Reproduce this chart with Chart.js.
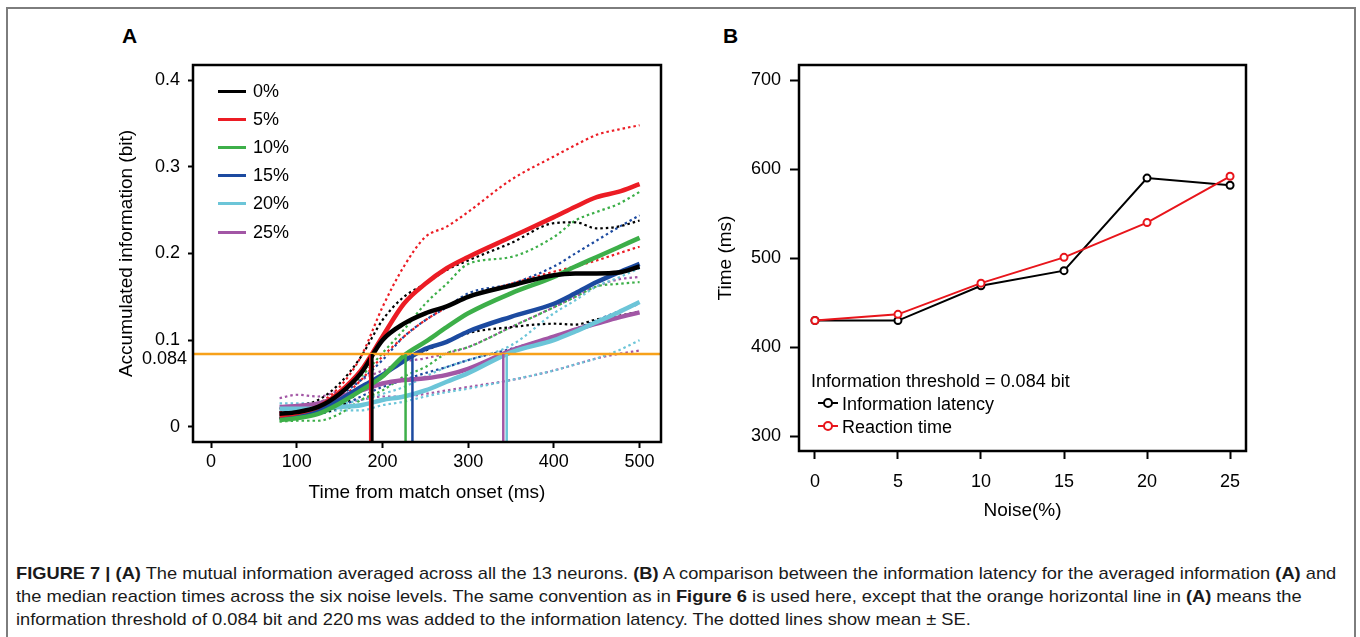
<!DOCTYPE html>
<html>
<head>
<meta charset="utf-8">
<script src="https://cdn.jsdelivr.net/npm/chart.js@4.4.1/dist/chart.umd.min.js"></script>
<style>
body{margin:0;background:#fff;}
#page{position:relative;width:1360px;height:637px;overflow:hidden;background:#fff;font-family:"Liberation Sans",Arial,sans-serif;color:#000;}
#frame{position:absolute;left:6px;top:7px;width:1350px;height:680px;border:2px solid #7d7d7d;box-sizing:border-box;}
canvas{position:absolute;}
#chartA{left:100px;top:40px;}
#chartB{left:700px;top:40px;}
.panel{position:absolute;font-weight:bold;font-size:21px;line-height:22px;}
.leg{position:absolute;font-size:18px;line-height:22px;white-space:nowrap;}
.leg .ln{position:absolute;top:10px;height:3px;}
.cap{position:absolute;left:16px;font-size:17px;line-height:23px;white-space:nowrap;color:#1a1a1a;transform:scaleX(1.075);transform-origin:0 0;}
.mk{position:absolute;top:9px;height:2px;width:20px;}
.dot{position:absolute;top:5px;left:5px;width:6px;height:6px;border:2px solid;border-radius:50%;background:#fff;}
#thrLabel{position:absolute;font-size:18px;line-height:22px;text-align:right;width:80px;}
</style>
</head>
<body>
<div id="page">
<div id="frame"></div>
<div class="panel" style="left:122px;top:25px">A</div>
<div class="panel" style="left:723px;top:25px">B</div>
<canvas id="chartA" width="580" height="490"></canvas>
<canvas id="chartB" width="580" height="490"></canvas>
<div id="thrLabel"></div>
<div id="legendA"></div>
<div id="legendB"></div>
<div class="cap" style="top:562px"><b>FIGURE 7 | (A)</b> The mutual information averaged across all the 13 neurons. <b>(B)</b> A comparison between the information latency for the averaged information <b>(A)</b> and</div>
<div class="cap" style="top:585px">the median reaction times across the six noise levels. The same convention as in <b>Figure 6</b> is used here, except that the orange horizontal line in <b>(A)</b> means the</div>
<div class="cap" style="top:608px">information threshold of 0.084 bit and 220&#8201;ms was added to the information latency. The dotted lines show mean &plusmn; SE.</div>
</div>
<script>
// ---- Panel A data: accumulated information (bit) vs time from match onset (ms)
const noiseLabels = ['0%', '5%', '10%', '15%', '20%', '25%'];
const seriesColors = ['#000000', '#ec1c24', '#3daf49', '#1c4aa0', '#6cc5d8', '#a256a5'];
const timeMs = [80, 100, 125, 150, 175, 200, 225, 250, 275, 300, 350, 400, 425, 450, 475, 500];

const mean0  = [0.015, 0.017, 0.023, 0.038, 0.062, 0.100, 0.119, 0.131, 0.139, 0.150, 0.163, 0.175, 0.177, 0.177, 0.178, 0.185];
const mean5  = [0.013, 0.016, 0.023, 0.040, 0.065, 0.104, 0.142, 0.165, 0.183, 0.196, 0.219, 0.242, 0.254, 0.265, 0.271, 0.280];
const mean10 = [0.008, 0.010, 0.015, 0.027, 0.042, 0.058, 0.082, 0.098, 0.115, 0.131, 0.154, 0.173, 0.185, 0.196, 0.207, 0.218];
const mean15 = [0.012, 0.014, 0.019, 0.031, 0.046, 0.060, 0.076, 0.090, 0.098, 0.110, 0.127, 0.142, 0.154, 0.167, 0.178, 0.188];
const mean20 = [0.021, 0.021, 0.021, 0.023, 0.025, 0.031, 0.035, 0.042, 0.052, 0.062, 0.086, 0.100, 0.110, 0.121, 0.132, 0.144];
const mean25 = [0.023, 0.024, 0.027, 0.035, 0.042, 0.050, 0.054, 0.056, 0.060, 0.067, 0.088, 0.104, 0.112, 0.119, 0.126, 0.132];

// mean +/- SE (dotted)
const up0  = [0.021, 0.024, 0.031, 0.050, 0.081, 0.123, 0.150, 0.165, 0.181, 0.192, 0.212, 0.235, 0.236, 0.229, 0.231, 0.238];
const lo0  = [0.010, 0.012, 0.015, 0.023, 0.042, 0.058, 0.077, 0.088, 0.098, 0.108, 0.115, 0.119, 0.118, 0.124, 0.128, 0.133];
const up5  = [0.017, 0.020, 0.027, 0.046, 0.081, 0.138, 0.185, 0.219, 0.231, 0.248, 0.285, 0.312, 0.325, 0.337, 0.343, 0.348];
const lo5  = [0.010, 0.012, 0.017, 0.031, 0.054, 0.081, 0.104, 0.123, 0.138, 0.150, 0.165, 0.179, 0.185, 0.192, 0.200, 0.208];
const up10 = [0.013, 0.015, 0.021, 0.038, 0.058, 0.085, 0.112, 0.142, 0.165, 0.188, 0.196, 0.219, 0.238, 0.248, 0.257, 0.271];
const lo10 = [0.006, 0.007, 0.007, 0.015, 0.031, 0.042, 0.058, 0.069, 0.085, 0.092, 0.115, 0.138, 0.150, 0.162, 0.165, 0.167];
const up15 = [0.017, 0.019, 0.023, 0.036, 0.054, 0.077, 0.104, 0.123, 0.138, 0.154, 0.165, 0.185, 0.200, 0.215, 0.230, 0.244];
const lo15 = [0.009, 0.011, 0.015, 0.023, 0.035, 0.046, 0.054, 0.062, 0.069, 0.077, 0.090, 0.104, 0.113, 0.123, 0.133, 0.142];
const up20 = [0.027, 0.027, 0.027, 0.027, 0.031, 0.038, 0.046, 0.058, 0.069, 0.077, 0.094, 0.131, 0.146, 0.162, 0.172, 0.183];
const lo20 = [0.015, 0.015, 0.015, 0.019, 0.019, 0.025, 0.029, 0.035, 0.040, 0.044, 0.054, 0.065, 0.072, 0.079, 0.088, 0.100];
const up25 = [0.033, 0.037, 0.035, 0.042, 0.054, 0.065, 0.075, 0.079, 0.085, 0.092, 0.115, 0.138, 0.150, 0.162, 0.170, 0.173];
const lo25 = [0.017, 0.018, 0.019, 0.025, 0.031, 0.035, 0.035, 0.038, 0.042, 0.046, 0.054, 0.065, 0.072, 0.079, 0.084, 0.088];

const threshold = 0.084;
const latencyMs = [188, 186, 227, 235, 345, 341];   // where each mean crosses the threshold
const xTicksA = [0, 100, 200, 300, 400, 500];
const yTicksA = [0, 0.084, 0.1, 0.2, 0.3, 0.4];

// ---- Panel B data
const noisePct = [0, 5, 10, 15, 20, 25];
const infoLatency = [430, 430, 469, 486, 590, 582];
const reactionTime = [430, 437, 472, 501, 540, 592];
const yTicksB = [300, 400, 500, 600, 700];

const THR_COLOR = '#f7a11a';
const FONT = {family: '"Liberation Sans", Arial, sans-serif', size: 18};
const TITLE_FONT = {family: '"Liberation Sans", Arial, sans-serif', size: 19};

const means = [mean0, mean5, mean10, mean15, mean20, mean25];
const uppers = [up0, up5, up10, up15, up20, up25];
const lowers = [lo0, lo5, lo10, lo15, lo20, lo25];

function pts(arr){
	return timeMs.map((t, i) => ({x: t, y: arr[i]}));
}

// box around chart area (R style)
const boxPlugin = {
	id: 'box',
	afterDatasetsDraw(chart){
		const {ctx, chartArea: a} = chart;
		ctx.save();
		ctx.strokeStyle = '#000';
		ctx.lineWidth = 2.5;
		ctx.strokeRect(a.left, a.top, a.right - a.left, a.bottom - a.top);
		ctx.restore();
	}
};

//--------------------------------------- chart A
const X_MIN_A = -21, X_MAX_A = 525, Y_MIN_A = -0.0175, Y_MAX_A = 0.4175;
let dsA = [];
for (let i = 0; i < 6; i++) {
	[uppers[i], lowers[i]].forEach(arr => {
		dsA.push({data: pts(arr), borderColor: seriesColors[i], borderWidth: 2.2, borderDash: [2.5, 3],
			pointRadius: 0, cubicInterpolationMode: 'monotone', order: 4});
	});
}
for (let i = 0; i < 6; i++) {
	dsA.push({data: pts(means[i]), borderColor: seriesColors[i], borderWidth: 4.5,
		pointRadius: 0, cubicInterpolationMode: 'monotone', order: 3});
}
dsA.push({data: [{x: X_MIN_A, y: threshold}, {x: X_MAX_A, y: threshold}], borderColor: THR_COLOR,
	borderWidth: 2.5, pointRadius: 0, order: 2});
for (let i = 0; i < 6; i++) {
	dsA.push({data: [{x: latencyMs[i], y: Y_MIN_A}, {x: latencyMs[i], y: threshold}], borderColor: seriesColors[i],
		borderWidth: i < 2 ? 3 : 2.5, pointRadius: 0, order: 1});
}

const chartA = new Chart(document.getElementById('chartA').getContext('2d'), {
	type: 'line',
	data: {datasets: dsA},
	plugins: [boxPlugin],
	options: {
		responsive: false,
		animation: false,
		devicePixelRatio: 1,
		layout: {padding: {top: 25, right: 19, left: 0, bottom: 0}},
		plugins: {legend: {display: false}, tooltip: {enabled: false}},
		scales: {
			x: {
				type: 'linear', min: X_MIN_A, max: X_MAX_A,
				afterBuildTicks: s => { s.ticks = xTicksA.map(v => ({value: v})); },
				afterFit: s => { s.height = 88; },
				grid: {drawOnChartArea: false, drawTicks: true, tickLength: 6, tickWidth: 2, tickColor: '#000'},
				border: {display: false},
				ticks: {color: '#000', font: FONT, padding: 3, maxRotation: 0},
				title: {display: true, text: 'Time from match onset (ms)', color: '#000', font: TITLE_FONT, padding: {top: 0, bottom: 26}}
			},
			y: {
				type: 'linear', min: Y_MIN_A, max: Y_MAX_A,
				afterBuildTicks: s => { s.ticks = yTicksA.map(v => ({value: v})); },
				afterFit: s => { s.width = 93; },
				grid: {drawOnChartArea: false, drawTicks: true, tickLength: 5, tickWidth: 2,
					tickColor: c => (c.tick && c.tick.value === threshold) ? 'rgba(0,0,0,0)' : '#000'},
				border: {display: false},
				// threshold label is placed separately (closer to the axis, like the original)
				ticks: {color: '#000', font: FONT, padding: 8, callback: v => (v === threshold ? '' : String(v))},
				title: {display: true, text: 'Accumulated information (bit)', color: '#000', font: TITLE_FONT, padding: {top: 15, bottom: 0}}
			}
		}
	}
});

// threshold tick label, positioned from the y scale
const thrLabel = document.getElementById('thrLabel');
thrLabel.textContent = String(threshold);
const canvasA = document.getElementById('chartA');
thrLabel.style.left = (canvasA.offsetLeft + chartA.chartArea.left - 6 - 80) + 'px';
thrLabel.style.top = (canvasA.offsetTop + chartA.scales.y.getPixelForValue(threshold) - 7) + 'px';

//--------------------------------------- chart B
new Chart(document.getElementById('chartB').getContext('2d'), {
	type: 'line',
	data: {
		datasets: [
			{label: 'Information latency', data: noisePct.map((n, i) => ({x: n, y: infoLatency[i]})),
				borderColor: '#000', borderWidth: 2, pointRadius: 3.5, pointBorderWidth: 2,
				pointBackgroundColor: '#fff', pointBorderColor: '#000', tension: 0, order: 2},
			{label: 'Reaction time', data: noisePct.map((n, i) => ({x: n, y: reactionTime[i]})),
				borderColor: '#e8151b', borderWidth: 2, pointRadius: 3.5, pointBorderWidth: 2,
				pointBackgroundColor: '#fff', pointBorderColor: '#e8151b', tension: 0, order: 1}
		]
	},
	plugins: [boxPlugin],
	options: {
		responsive: false,
		animation: false,
		devicePixelRatio: 1,
		layout: {padding: {top: 25, right: 34, left: 0, bottom: 0}},
		plugins: {legend: {display: false}, tooltip: {enabled: false}},
		scales: {
			x: {
				type: 'linear', min: -0.96, max: 25.96,
				afterBuildTicks: s => { s.ticks = noisePct.map(v => ({value: v})); },
				afterFit: s => { s.height = 79; },
				grid: {drawOnChartArea: false, drawTicks: true, tickLength: 8, tickWidth: 2, tickColor: '#000'},
				border: {display: false},
				ticks: {color: '#000', font: FONT, padding: 12, maxRotation: 0},
				title: {display: true, text: 'Noise(%)', color: '#000', font: TITLE_FONT, padding: {top: 0, bottom: 8}}
			},
			y: {
				type: 'linear', min: 283.5, max: 717,
				afterBuildTicks: s => { s.ticks = yTicksB.map(v => ({value: v})); },
				afterFit: s => { s.width = 99; },
				grid: {drawOnChartArea: false, drawTicks: true, tickLength: 9, tickWidth: 2, tickColor: '#000'},
				border: {display: false},
				ticks: {color: '#000', font: FONT, padding: 9},
				title: {display: true, text: 'Time (ms)', color: '#000', font: TITLE_FONT, padding: {top: 14, bottom: 0}}
			}
		}
	}
});

//--------------------------------------- legends (html text)
const legA = document.getElementById('legendA');
noiseLabels.forEach((lab, i) => {
	const row = document.createElement('div');
	row.className = 'leg';
	row.style.left = '218px';
	row.style.top = (80 + 28.1 * i) + 'px';
	row.innerHTML = `<span class="ln" style="left:0;width:28px;background:${seriesColors[i]}"></span><span style="position:relative;left:35px">${lab}</span>`;
	legA.appendChild(row);
});

const legB = document.getElementById('legendB');
const legBItems = [['Information latency', '#000'], ['Reaction time', '#e8151b']];
const head = document.createElement('div');
head.className = 'leg';
head.style.left = '811px';
head.style.top = '370px';
head.textContent = 'Information threshold = 0.084 bit';
legB.appendChild(head);
legBItems.forEach((it, i) => {
	const row = document.createElement('div');
	row.className = 'leg';
	row.style.left = '818px';
	row.style.top = (393 + 23 * i) + 'px';
	row.innerHTML = `<span class="mk" style="left:0;background:${it[1]}"></span><span class="dot" style="border-color:${it[1]}"></span><span style="position:relative;left:24px">${it[0]}</span>`;
	legB.appendChild(row);
});
</script>
</body>
</html>
